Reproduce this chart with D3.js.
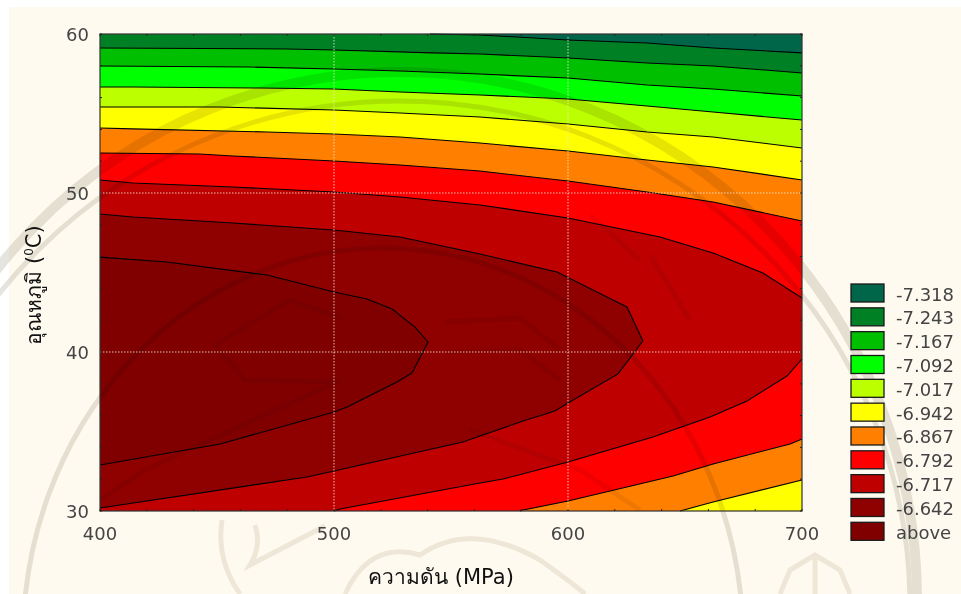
<!DOCTYPE html>
<html><head><meta charset="utf-8">
<style>html,body{margin:0;padding:0;background:#fff}svg{display:block}text{font-family:"DejaVu Sans","Noto Sans",sans-serif}</style>
<script src="https://cdnjs.cloudflare.com/ajax/libs/d3/7.8.5/d3.min.js"></script>
</head><body><div id="c"></div>
<script>
const legendLabels=["-7.318","-7.243","-7.167","-7.092","-7.017","-6.942","-6.867","-6.792","-6.717","-6.642","above"];
const bandColors=["#00664a","#008025","#00bf00","#00ff00","#bbff00","#ffff00","#ff8000","#ff0000","#bf0000","#8f0000","#800000"];
const xTicks=[400,500,600,700];
const yTicks=[30,40,50,60];
const xTitle="ความดัน (MPa)";
// contour lines [pressure MPa, temperature C]
const c7318=[[541,60],[562.4,59.94],[600,59.62],[633.8,59.43],[662,59.12],[700,58.81]];
const c7243=[[400,59.12],[479.9,59.06],[500,58.99],[542.3,58.81],[562.4,58.74],[600,58.49],[633.8,58.18],[662,57.99],[700,57.55]];
const c7167=[[400,57.99],[464.1,57.92],[500,57.8],[528.2,57.67],[562.4,57.48],[600,57.23],[633.8,56.79],[662,56.54],[700,56.1]];
const c7092=[[400,56.67],[414.1,56.67],[468.4,56.6],[500,56.54],[528.2,56.35],[562.4,56.16],[600,55.91],[633.8,55.47],[662,55.09],[700,54.59]];
const c7017=[[400,55.41],[451.3,55.41],[500,55.22],[528.2,55.03],[562.4,54.78],[600,54.34],[633.8,53.84],[662,53.52],[700,52.83]];
const c6942=[[400,54.09],[414.1,54.03],[471.4,53.84],[500,53.71],[528.2,53.52],[562.4,53.14],[600,52.64],[633.8,52.08],[662,51.64],[700,50.82]];
const c6942b=[[700,31.95],[662,30.57],[647.9,30]];
const c6867=[[400,52.52],[442.7,52.45],[456.8,52.33],[500,52.01],[528.2,51.76],[562.4,51.38],[600,50.75],[633.8,50.06],[662,49.43],[700,48.24]];
const c6867b=[[700,34.53],[694.9,34.21],[662,32.96],[644.9,32.2],[600,30.63],[580.8,30.06],[579.5,30]];
const c6792=[[400,50.82],[414.1,50.63],[456.8,50.38],[500,50.06],[528.2,49.75],[562.4,49.25],[600,48.43],[639.3,47.23],[662,46.23],[683.3,44.97],[700,43.4]];
const c6792b=[[700,39.56],[693.6,38.49],[676.5,36.92],[660.7,35.91],[636.3,34.65],[600,33.08],[572.2,32.01],[562.4,31.76],[502.6,30.13],[500,30]];
const c6717=[[400,48.68],[414.1,48.49],[456.8,48.11],[500,47.67],[528.2,47.23],[562.4,46.16],[595.3,45.03],[619.2,43.27],[625.2,42.83],[632,40.69],[621.4,38.62],[600,36.79],[594.4,36.29],[580.8,35.66],[562.4,34.72],[555.1,34.34],[500,32.52],[488.5,32.14],[400,30.19]];
const c6642=[[400,45.97],[428.6,45.66],[471.4,44.84],[500,43.77],[514.1,43.33],[524.8,42.7],[534.6,41.57],[540.2,40.63],[533.3,38.68],[526.9,38.11],[505.6,36.54],[500,36.23],[451.3,34.21],[400,32.89]];
const levels=[[c7318],[c7243],[c7167],[c7092],[c7017],[c6942,c6942b],[c6867,c6867b],[c6792,c6792b],[c6717],[c6642]];
// background seal watermark: rings [cx, cy, rx, ry, stroke width]
const sealRings=[[400,600,517,528,10],[400,606,510,505,5],[383,640,360,392,5]];
// faint emblem strokes of the seal, as SVG outlines
const sealStrokes=[
 "M215,345 L245,380 L340,382 M215,345 L290,300 L340,318",
 "M560,380 L520,350 L445,352 M445,322 L520,318 L560,350",
 "M100,500 L145,470 L330,385 M640,510 L580,470 L470,430",
 "M222,520 Q216,560 240,594 M255,525 Q262,545 250,565 L275,552 L325,526 M345,594 Q370,540 420,555 Q470,520 540,560 Q575,585 585,594",
 "M780,594 L790,570 L815,555 L840,570 L850,594 M815,555 V594",
 "M590,215 L640,260 M650,255 L690,320"];

const W=961,H=594,m={l:100,r:802,t:34,b:511};
const x=d3.scaleLinear().domain([400,700]).range([m.l,m.r]);
const y=d3.scaleLinear().domain([30,60]).range([m.b,m.t]);
const svg=d3.select("#c").append("svg").attr("width",W).attr("height",H);
svg.append("rect").attr("x",9).attr("y",7).attr("width",W-9).attr("height",H-7).attr("fill","#fefaf0");

const chart=svg.append("g");
const P=d=>[x(d[0]),y(d[1])];
chart.append("rect").attr("x",m.l).attr("y",m.t).attr("width",m.r-m.l).attr("height",m.b-m.t).attr("fill",bandColors[0]);
levels.forEach((lv,i)=>{
  let pts=lv[0].map(P);
  const last=lv[0][lv[0].length-1],first=lv[0][0];
  if(lv[1]) pts=pts.concat(lv[1].map(P));
  else if(last[0]===700 && i<8) pts.push([m.r,m.b]);
  if(i<8) pts.push([m.l,m.b]);
  if(first[1]===60) pts.push([m.l,m.t]);
  chart.append("polygon").attr("points",pts.join(" ")).attr("fill",bandColors[i+1]);
});

// watermark under the lines, multiplied into the fills and paper
const wm=svg.append("g").style("mix-blend-mode","multiply");
sealRings.forEach(r=>wm.append("ellipse").attr("cx",r[0]).attr("cy",r[1]).attr("rx",r[2]).attr("ry",r[3]).attr("fill","none").attr("stroke","#e6e4de").attr("stroke-width",r[4]));
sealStrokes.forEach(d=>wm.append("path").attr("d",d).attr("fill","none").attr("stroke","#efece6").attr("stroke-width",5));

const lines=svg.append("g");
const line=d3.line().x(d=>x(d[0])).y(d=>y(d[1]));
levels.flat().forEach(l=>lines.append("path").attr("d",line(l)).attr("fill","none").attr("stroke","#000").attr("stroke-width",1.1));

// grid
[500,600].forEach(v=>lines.append("line").attr("x1",x(v)).attr("x2",x(v)).attr("y1",m.t).attr("y2",m.b).attr("stroke","#f0e8d8").attr("stroke-width",1).attr("stroke-dasharray","1.5 1.5").attr("opacity",.85));
[40,50].forEach(v=>lines.append("line").attr("x1",m.l).attr("x2",m.r).attr("y1",y(v)).attr("y2",y(v)).attr("stroke","#f0e8d8").attr("stroke-width",1).attr("stroke-dasharray","1.5 1.5").attr("opacity",.85));

// frame + inner ticks
lines.append("rect").attr("x",m.l).attr("y",m.t).attr("width",m.r-m.l).attr("height",m.b-m.t).attr("fill","none").attr("stroke","#333").attr("stroke-width",1.2);
d3.range(400,701,20).forEach(v=>{[[m.t,m.t+2],[m.b,m.b-2]].forEach(a=>lines.append("line").attr("x1",x(v)).attr("x2",x(v)).attr("y1",a[0]).attr("y2",a[1]).attr("stroke","#222"));});
d3.range(30,61,2).forEach(v=>{[[m.l,m.l+2],[m.r,m.r-2]].forEach(a=>lines.append("line").attr("y1",y(v)).attr("y2",y(v)).attr("x1",a[0]).attr("x2",a[1]).attr("stroke","#222"));});

// axes labels
const tc="#444";
xTicks.forEach(v=>svg.append("text").attr("x",x(v)).attr("y",540).attr("text-anchor","middle").attr("font-size",18).attr("fill",tc).text(v));
yTicks.forEach(v=>svg.append("text").attr("x",89).attr("y",y(v)+7).attr("text-anchor","end").attr("font-size",18).attr("fill",tc).text(v));
svg.append("text").attr("x",441).attr("y",584).attr("text-anchor","middle").attr("font-size",21).attr("fill","#111").text(xTitle);
const yl=svg.append("text").attr("transform","translate(41,285) rotate(-90)").attr("text-anchor","middle").attr("font-size",21).attr("fill","#111");
yl.append("tspan").text("อุณหภูมิ (");
yl.append("tspan").attr("font-size",12).attr("dy",-8).text("0");
yl.append("tspan").attr("dy",8).text("C)");

// legend
legendLabels.forEach((t,i)=>{
  const yy=284+i*23.83;
  svg.append("rect").attr("x",851).attr("y",yy).attr("width",33).attr("height",18).attr("fill",bandColors[i]).attr("stroke","#1a1a1a").attr("stroke-width",1.3);
  svg.append("text").attr("x",896).attr("y",yy+16.5).attr("font-size",18).attr("fill",tc).text(t);
});
</script></body></html>
